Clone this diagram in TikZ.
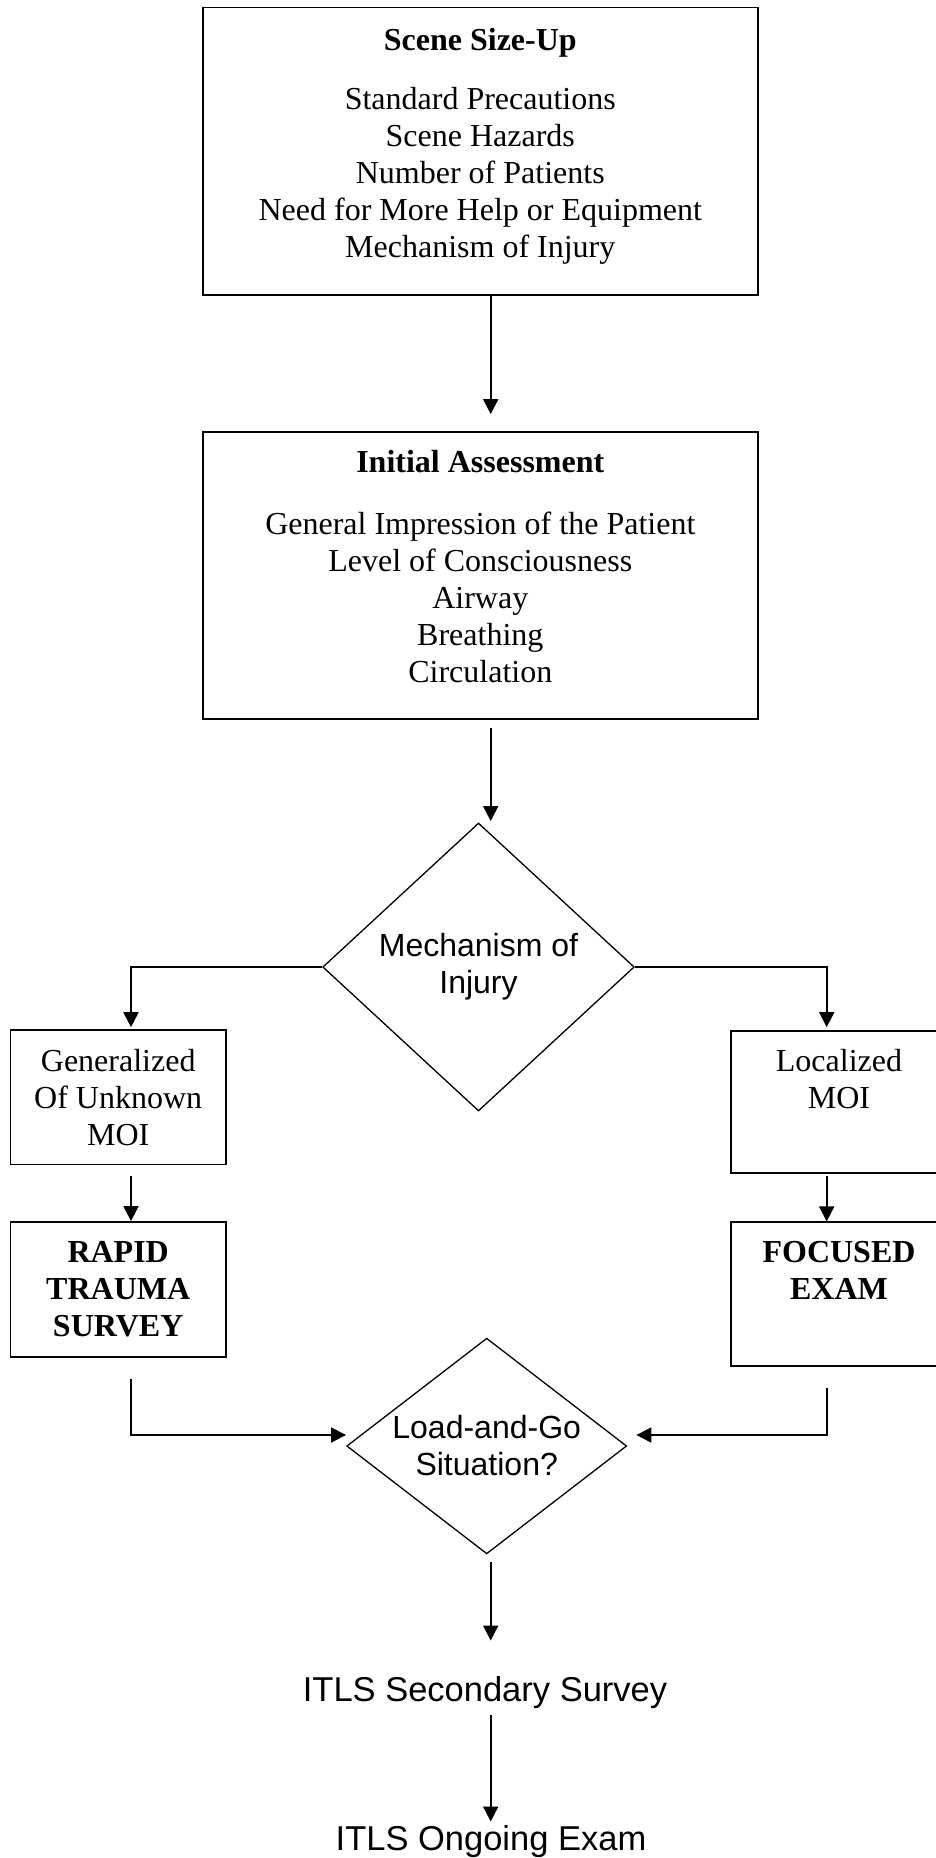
\documentclass[tikz,border=0pt]{standalone}
\usepackage{fontspec}
\setmainfont{Liberation Serif}
\setsansfont{Liberation Sans}
\usetikzlibrary{shapes.geometric,arrows.meta}
\newcommand{\padbelow}[1]{\rule[-#1]{0pt}{#1}}

\tikzset{
  box/.style={draw, line width=1.7pt, align=center, inner sep=0pt, font=\fontsize{32}{37}\selectfont},
  choice/.style={diamond, draw, line width=1.3pt, align=center, inner sep=0pt, font=\sffamily\fontsize{32}{37}\selectfont},
  plain/.style={inner sep=0pt, anchor=base, font=\sffamily\fontsize{34.5}{40}\selectfont},
  arr/.style={line width=1.8pt, -{Triangle[length=15pt,width=15pt]}}
}

\begin{document}
\begin{tikzpicture}[x=1pt,y=-1pt]
\useasboundingbox (0,0) rectangle (935,1858);
\coordinate (spine) at (490.7,0);
\coordinate (lcol) at (131,0);
\coordinate (rcol) at (826.7,0);

\node[box, minimum width=555.3pt, minimum height=287.7pt] (scene) at (480.3,151.2)
  {\textbf{Scene Size-Up}\\[22pt]Standard Precautions\\Scene Hazards\\Number of Patients\\Need for More Help or Equipment\\Mechanism of Injury\padbelow{17pt}};
\node[box, minimum width=555.3pt, minimum height=287.3pt] (initial) at (480.3,575.3)
  {\textbf{Initial Assessment}\\[25pt]General Impression of the Patient\\Level of Consciousness\\Airway\\Breathing\\Circulation\padbelow{17pt}};
\node[choice, minimum width=311.6pt, minimum height=288pt] (moi) at (478.5,967) {Mechanism of\\Injury};
\node[box, minimum width=215.7pt, minimum height=134.3pt] (general) at (118.2,1097.2) {Generalized\\Of Unknown\\MOI};
\node[box, minimum width=216.6pt, minimum height=142.6pt] (local) at (839,1102) {Localized\\MOI\padbelow{46pt}};
\node[box, minimum width=215.7pt, minimum height=134.7pt] (rapid) at (118.2,1289.3) {\textbf{RAPID}\\\textbf{TRAUMA}\\\textbf{SURVEY}};
\node[box, minimum width=216.6pt, minimum height=143.4pt] (focused) at (839,1294) {\textbf{FOCUSED}\\\textbf{EXAM}\padbelow{48pt}};
\node[choice, aspect=1.3, minimum width=280pt, minimum height=215.7pt] (loadgo) at (486.7,1446) {Load-and-Go\\Situation?};
\node[plain] (secondary) at (485,1701.7) {ITLS Secondary Survey};
\node[plain] (ongoing) at (491,1850) {ITLS Ongoing Exam};

\draw[arr, shorten >=16.7pt] (scene.south -| spine) -- (initial.north -| spine);
\draw[arr, shorten <=8pt, shorten >=1.3pt] (initial.south -| spine) -- (moi.north -| spine);
\draw[arr, shorten >=2pt] (moi.west) -| (general.north -| lcol);
\draw[arr, shorten >=2.7pt] (moi.east) -| (local.north -| rcol);
\draw[arr, shorten <=10.7pt] (general.south -| lcol) -- (rapid.north -| lcol);
\draw[arr, shorten <=1.7pt] (local.south -| rcol) -- (focused.north -| rcol);
\draw[arr, shorten <=21pt] (rapid.south -| lcol) |- ([yshift=11pt]loadgo.west);
\draw[arr, shorten <=21pt, shorten >=9pt] (focused.south -| rcol) |- ([yshift=11pt]loadgo.east);
\draw[arr, shorten <=7.3pt, shorten >=36pt] (loadgo.south -| spine) -- (secondary.north -| spine);
\draw[arr, shorten <=6pt, shorten >=3.3pt] (secondary.south -| spine) -- (ongoing.north -| spine);
\end{tikzpicture}
\end{document}
